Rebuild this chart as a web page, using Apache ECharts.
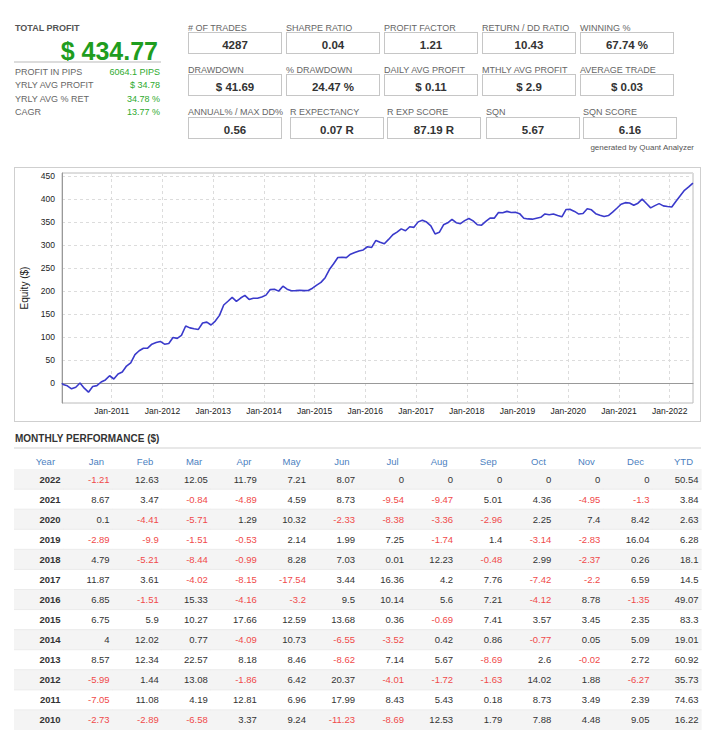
<!DOCTYPE html>
<html>
<head>
<meta charset="utf-8">
<script src="https://cdn.jsdelivr.net/npm/echarts@6/dist/echarts.min.js"></script>
<style>
  body { margin: 0; background: #fff; font-family: "Liberation Sans", Arial, sans-serif; }
  #page { position: relative; width: 710px; height: 734px; overflow: hidden; }
  .abs { position: absolute; white-space: nowrap; }
  .lbl { font-size: 9px; line-height: 9px; color: #666; }
  .box { border: 1px solid #c6c6c6; box-sizing: border-box; width: 94px; height: 22px; text-align: center;
         font-weight: bold; font-size: 11.5px; line-height: 24px; color: #333; }
  .grn { font-size: 9px; line-height: 9px; color: #2eaa2e; text-align: right; }
  #chart { position: absolute; left: 0; top: 0; width: 710px; height: 734px; z-index: 1; }
</style>
</head>
<body>
<div id="page">
  <div id="stats"></div>
  <div id="chart"></div>
</div>
<script>
// summary figures
const profitLabels = ['PROFIT IN PIPS', 'YRLY AVG PROFIT', 'YRLY AVG % RET', 'CAGR'];
const profitValues = ['6064.1 PIPS', '$ 34.78', '34.78 %', '13.77 %'];
const statLabels = [
  ['# OF TRADES', 'SHARPE RATIO', 'PROFIT FACTOR', 'RETURN / DD RATIO', 'WINNING %'],
  ['DRAWDOWN', '% DRAWDOWN', 'DAILY AVG PROFIT', 'MTHLY AVG PROFIT', 'AVERAGE TRADE'],
  ['ANNUAL% / MAX DD%', 'R EXPECTANCY', 'R EXP SCORE', 'SQN', 'SQN SCORE']
];
const statValues = [
  ['4287', '0.04', '1.21', '10.43', '67.74 %'],
  ['$ 41.69', '24.47 %', '$ 0.11', '$ 2.9', '$ 0.03'],
  ['0.56', '0.07 R', '87.19 R', '5.67', '6.16']
];

// monthly performance ($)
const months = ['Jan', 'Feb', 'Mar', 'Apr', 'May', 'Jun', 'Jul', 'Aug', 'Sep', 'Oct', 'Nov', 'Dec'];
const years = [2022, 2021, 2020, 2019, 2018, 2017, 2016, 2015, 2014, 2013, 2012, 2011, 2010];
const perf2022 = [-1.21, 12.63, 12.05, 11.79, 7.21, 8.07, 0, 0, 0, 0, 0, 0];
const perf2021 = [8.67, 3.47, -0.84, -4.89, 4.59, 8.73, -9.54, -9.47, 5.01, 4.36, -4.95, -1.3];
const perf2020 = [0.1, -4.41, -5.71, 1.29, 10.32, -2.33, -8.38, -3.36, -2.96, 2.25, 7.4, 8.42];
const perf2019 = [-2.89, -9.9, -1.51, -0.53, 2.14, 1.99, 7.25, -1.74, 1.4, -3.14, -2.83, 16.04];
const perf2018 = [4.79, -5.21, -8.44, -0.99, 8.28, 7.03, 0.01, 12.23, -0.48, 2.99, -2.37, 0.26];
const perf2017 = [11.87, 3.61, -4.02, -8.15, -17.54, 3.44, 16.36, 4.2, 7.76, -7.42, -2.2, 6.59];
const perf2016 = [6.85, -1.51, 15.33, -4.16, -3.2, 9.5, 10.14, 5.6, 7.21, -4.12, 8.78, -1.35];
const perf2015 = [6.75, 5.9, 10.27, 17.66, 12.59, 13.68, 0.36, -0.69, 7.41, 3.57, 3.45, 2.35];
const perf2014 = [4, 12.02, 0.77, -4.09, 10.73, -6.55, -3.52, 0.42, 0.86, -0.77, 0.05, 5.09];
const perf2013 = [8.57, 12.34, 22.57, 8.18, 8.46, -8.62, 7.14, 5.67, -8.69, 2.6, -0.02, 2.72];
const perf2012 = [-5.99, 1.44, 13.08, -1.86, 6.42, 20.37, -4.01, -1.72, -1.63, 14.02, 1.88, -6.27];
const perf2011 = [-7.05, 11.08, 4.19, 12.81, 6.96, 17.99, 8.43, 5.43, 0.18, 8.73, 3.49, 2.39];
const perf2010 = [-2.73, -2.89, -6.58, 3.37, 9.24, -11.23, -8.69, 12.53, 1.79, 7.88, 4.48, 9.05];
const ytd = [50.54, 3.84, 2.63, 6.28, 18.1, 14.5, 49.07, 83.3, 19.01, 60.92, 35.73, 74.63, 16.22];
const lastTradeMonth = 6; // 2022 has trades up to June

const perfByYear = {
  2022: perf2022, 2021: perf2021, 2020: perf2020, 2019: perf2019, 2018: perf2018, 2017: perf2017,
  2016: perf2016, 2015: perf2015, 2014: perf2014, 2013: perf2013, 2012: perf2012, 2011: perf2011, 2010: perf2010
};

// ---- html summary part ----
const stats = document.getElementById('stats');
function add(html, css, cls) {
  const d = document.createElement('div');
  d.className = 'abs ' + (cls || '');
  d.style.cssText = css;
  d.innerHTML = html;
  stats.appendChild(d);
}
add('TOTAL PROFIT', 'left:15px;top:24px;font-size:9px;line-height:9px;font-weight:bold;color:#555;');
add('$ 434.77', 'right:552px;top:39px;font-size:25px;line-height:25px;font-weight:bold;color:#1f9d1f;');
add('', 'left:14px;top:61px;width:147px;height:2px;background:#dcdcdc;');
const profitBase = [75.7, 88.9, 102.4, 115.8];
profitLabels.forEach((l, i) => {
  add(l, 'left:15px;top:' + (profitBase[i] - 7.6) + 'px;', 'lbl');
  add(profitValues[i], 'right:550px;top:' + (profitBase[i] - 7.6) + 'px;', 'grn');
});
const rowLefts = [[188, 286, 384, 482, 580], [188, 286, 384, 482, 580], [188, 290, 387, 486, 583]];
const labelBase = [31.7, 73.6, 115.2];
const boxTop = [32.3, 74.3, 116.7];
statLabels.forEach((row, r) => {
  row.forEach((l, c) => {
    add(l, 'left:' + rowLefts[r][c] + 'px;top:' + (labelBase[r] - 7.6) + 'px;', 'lbl');
    add(statValues[r][c], 'left:' + rowLefts[r][c] + 'px;top:' + boxTop[r] + 'px;', 'box');
  });
});
add('generated by Quant Analyzer', 'right:16px;top:144px;font-size:8px;line-height:8px;color:#555;');
add('', 'left:14px;top:167px;width:687px;height:255px;border:1px solid #cfcfcf;box-sizing:border-box;');
add('MONTHLY PERFORMANCE ($)', 'left:15px;top:434px;font-size:10px;line-height:10px;font-weight:bold;color:#333;');
add('', 'left:14px;top:447px;width:687px;height:2px;background:#e8e8e8;');

// ---- equity curve: running total of the monthly results ----
const equity = [[2010.02, 0]];
let total = 0;
years.slice().reverse().forEach((y) => {
  perfByYear[y].forEach((v, m) => {
    if (y === 2022 && m >= lastTradeMonth) return;
    total += v;
    equity.push([y + (m + 0.5) / 12, Math.round(total * 100) / 100]);
  });
});

// ---- table cells ----
const tableCols = ['Year'].concat(months, ['YTD']);
const tableRows = ['head'].concat(years.map(String));
const cells = [];
tableRows.forEach((r, ri) => {
  tableCols.forEach((c, ci) => {
    let text; let kind = 'val'; let neg = false;
    if (ri === 0) { text = c; kind = 'head'; }
    else if (ci === 0) { text = r; kind = 'year'; }
    else {
      const v = ci === 13 ? ytd[ri - 1] : perfByYear[years[ri - 1]][ci - 1];
      text = String(v); neg = v < 0;
    }
    cells.push({ value: [ci, ri], text: text, kind: kind, neg: neg, row: ri });
  });
});

const font = '"Liberation Sans", Arial, sans-serif';
const chart = echarts.init(document.getElementById('chart'), null, { renderer: 'svg' });
chart.setOption({
  animation: false,
  grid: [
    { left: 62, top: 173, width: 631, height: 230, show: true, borderColor: '#bcbcbc', borderWidth: 1 },
    { left: 14, top: 449, width: 687, height: 281 }
  ],
  xAxis: [
    {
      type: 'value', gridIndex: 0, min: 2010.02, max: 2022.46, splitNumber: 12,
      axisLine: { lineStyle: { color: '#999' } },
      axisTick: { show: false },
      axisLabel: {
        margin: 3, fontSize: 8.5, color: '#222', fontFamily: font,
        formatter: (v) => (Number.isInteger(v) ? 'Jan-' + v : '')
      },
      splitLine: { show: true, lineStyle: { color: '#dcdcdc', type: [3, 3] } }
    },
    { type: 'category', gridIndex: 1, data: tableCols, show: false }
  ],
  yAxis: [
    {
      type: 'value', gridIndex: 0, min: -43, max: 457, splitNumber: 10,
      name: 'Equity ($)', nameLocation: 'middle', nameGap: 26,
      nameTextStyle: { fontSize: 10, color: '#222', fontFamily: font },
      axisLine: { show: true, lineStyle: { color: '#999' } },
      axisTick: { show: false },
      axisLabel: {
        margin: 7, fontSize: 8.5, color: '#222', fontFamily: font,
        formatter: (v) => (v % 50 === 0 ? String(v) : '')
      },
      splitLine: { show: true, lineStyle: { color: '#dcdcdc', type: [3, 3] } }
    },
    { type: 'category', gridIndex: 1, data: tableRows, inverse: true, show: false }
  ],
  series: [
    {
      type: 'line', xAxisIndex: 0, yAxisIndex: 0, data: equity,
      showSymbol: false, lineStyle: { color: '#3a3acb', width: 1.6 }
    },
    {
      type: 'custom', xAxisIndex: 1, yAxisIndex: 1,
      data: cells.map((c) => c.value),
      renderItem: (params, api) => {
        const c = cells[params.dataIndex];
        const p = api.coord([api.value(0), api.value(1)]);
        const s = api.size([1, 1]);
        const x0 = p[0] - s[0] / 2;
        const y0 = p[1] - s[1] / 2;
        const children = [];
        if (c.row > 0 && c.row % 2 === 1) {
          children.push({ type: 'rect', shape: { x: x0, y: y0, width: s[0] + 0.6, height: s[1] }, style: { fill: '#f4f4f4' } });
        }
        if (c.row > 1) {
          children.push({ type: 'line', shape: { x1: x0, y1: y0, x2: x0 + s[0] + 0.6, y2: y0 }, style: { stroke: '#ebebeb', lineWidth: 1 } });
        }
        children.push({
          type: 'text',
          style: {
            text: c.text,
            x: x0 + s[0] - (c.kind === 'head' ? 8 : 2.5),
            y: p[1] + (c.kind === 'head' ? 2 : 0),
            align: 'right', verticalAlign: 'middle',
            fontSize: 9.5, fontFamily: font,
            fontWeight: c.kind === 'year' ? 'bold' : 'normal',
            fill: c.kind === 'head' ? '#4d7fbf' : (c.neg ? '#f04a4a' : '#333')
          }
        });
        return { type: 'group', children: children };
      }
    }
  ]
});
</script>
</body>
</html>
